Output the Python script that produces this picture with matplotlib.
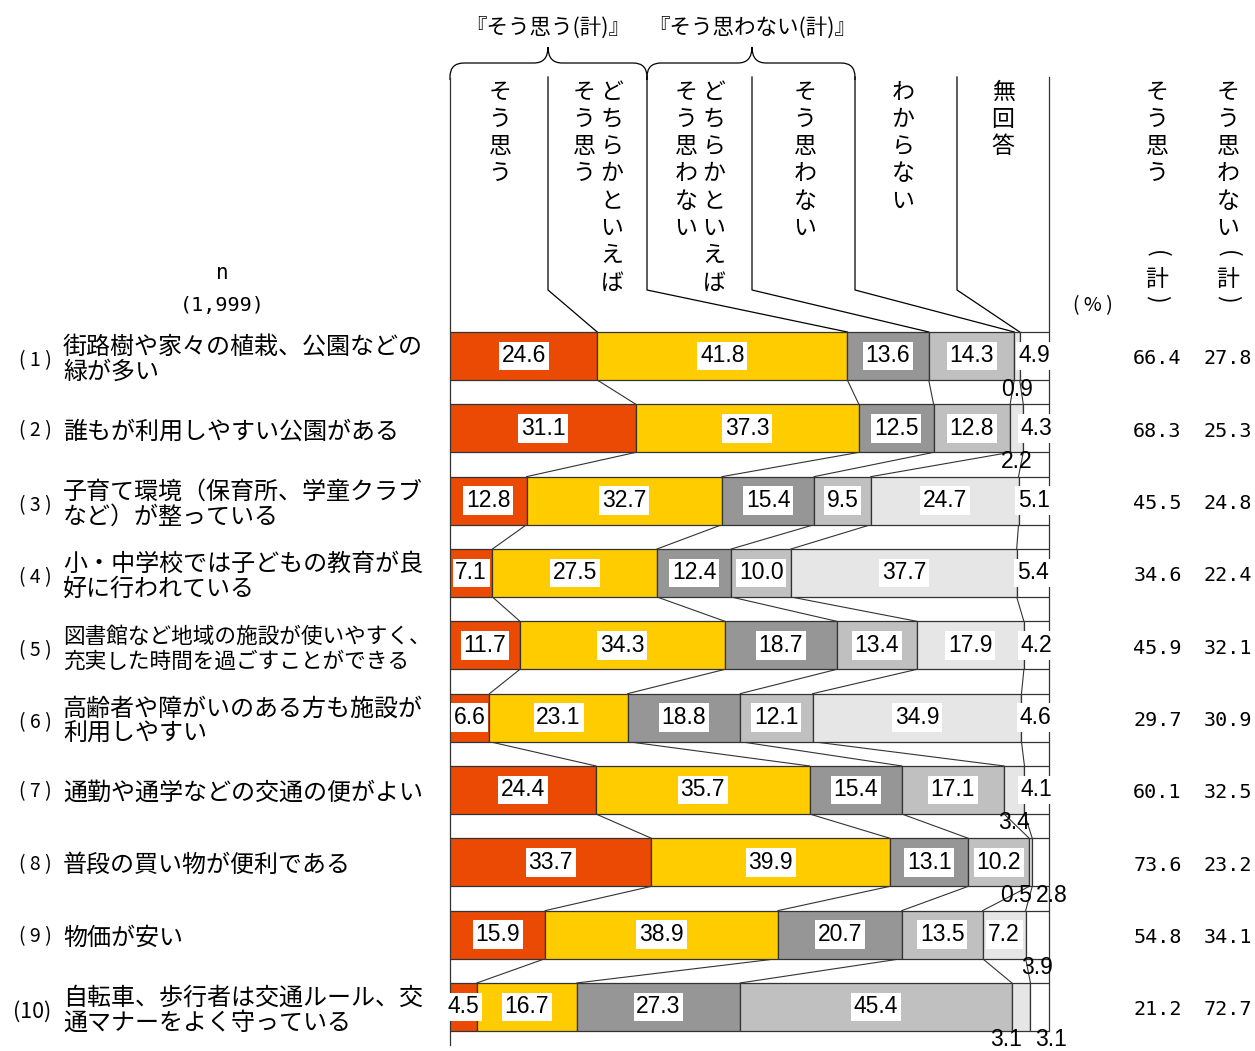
import matplotlib
matplotlib.use('Agg')  # noqa
import matplotlib.pyplot as plt
from matplotlib.path import Path
from matplotlib.patches import PathPatch

plt.rcParams['font.family'] = ['Noto Sans CJK JP', 'DejaVu Sans']

# ---- data ----
items = [
    '街路樹や家々の植栽、公園などの\n緑が多い',
    '誰もが利用しやすい公園がある',
    '子育て環境（保育所、学童クラブ\nなど）が整っている',
    '小・中学校では子どもの教育が良\n好に行われている',
    '図書館など地域の施設が使いやすく、\n充実した時間を過ごすことができる',
    '高齢者や障がいのある方も施設が\n利用しやすい',
    '通勤や通学などの交通の便がよい',
    '普段の買い物が便利である',
    '物価が安い',
    '自転車、歩行者は交通ルール、交\n通マナーをよく守っている',
]
n_total = '(1,999)'
sou = [24.6, 31.1, 12.8, 7.1, 11.7, 6.6, 24.4, 33.7, 15.9, 4.5]
dochira_sou = [41.8, 37.3, 32.7, 27.5, 34.3, 23.1, 35.7, 39.9, 38.9, 16.7]
dochira_nai = [13.6, 12.5, 15.4, 12.4, 18.7, 18.8, 15.4, 13.1, 20.7, 27.3]
sou_nai = [14.3, 12.8, 9.5, 10.0, 13.4, 12.1, 17.1, 10.2, 13.5, 45.4]
wakaranai = [0.9, 2.2, 24.7, 37.7, 17.9, 34.9, 3.4, 0.5, 7.2, 3.1]
mukaitou = [4.9, 4.3, 5.1, 5.4, 4.2, 4.6, 4.1, 2.8, 3.9, 3.1]
total_sou = [66.4, 68.3, 45.5, 34.6, 45.9, 29.7, 60.1, 73.6, 54.8, 21.2]
total_nai = [27.8, 25.3, 24.8, 22.4, 32.1, 30.9, 32.5, 23.2, 34.1, 72.7]

series = [sou, dochira_sou, dochira_nai, sou_nai, wakaranai, mukaitou]
colors = ['#EB4A05', '#FFCC00', '#969696', '#C0C0C0', '#E6E6E6', '#FFFFFF']

W, H = 1255, 1051
X0, X1 = 450, 1049          # bar area in pixels
Y0, STEP = 356, 72.33       # first row centre, row step
BAR_H = 0.664


def px_x(px):
    return (px - X0) / (X1 - X0) * 100


def px_y(py):
    return (py - Y0) / STEP


fig = plt.figure(figsize=(W / 100, H / 100), dpi=100)

# overlay in pixel coordinates for header / labels
ov = fig.add_axes([0, 0, 1, 1])
ov.set_xlim(0, W)
ov.set_ylim(H, 0)
ov.axis('off')

top_px = Y0 - 0.5 * STEP
bot_px = Y0 + 9.5 * STEP
ax = fig.add_axes([X0 / W, 1 - bot_px / H, (X1 - X0) / W, (bot_px - top_px) / H])
ax.set_xlim(0, 100)
ax.set_ylim(9.5, -0.5)
ax.axis('off')

n = len(items)
rows = list(range(n))
norm = []
for i in rows:
    vals = [s[i] for s in series]
    tot = sum(vals)
    norm.append([v / tot * 100 for v in vals])

lefts = [0] * n
cums = [[0] for _ in rows]
for k in range(len(series)):
    widths = [norm[i][k] for i in rows]
    ax.barh(rows, widths, left=lefts, height=BAR_H, color=colors[k],
            edgecolor='#333333', linewidth=0.9, zorder=2)
    lefts = [lefts[i] + widths[i] for i in rows]
    for i in rows:
        cums[i].append(lefts[i])

# connecting lines between rows
for i in range(n - 1):
    for k in range(1, len(series)):
        ax.plot([cums[i][k], cums[i + 1][k]],
                [i + BAR_H / 2, i + 1 - BAR_H / 2],
                color='#333333', lw=0.8, zorder=1)

# frame lines
ax.plot([0, 0], [px_y(78), px_y(1045)], color='#333333', lw=0.9,
        clip_on=False, zorder=1)
ax.plot([100, 100], [px_y(77), 9 + BAR_H / 2], color='#333333', lw=0.9,
        clip_on=False, zorder=1)

# header leader lines
dividers = [548, 647, 752, 855, 957]
for k, xd in enumerate(dividers, start=1):
    ax.plot([px_x(xd), px_x(xd), cums[0][k]],
            [px_y(77), px_y(290), -BAR_H / 2],
            color='black', lw=0.9, clip_on=False, zorder=1)


def brace(x0, xm, x1, yb=63, yt=47, ye=80, r=14):
    verts = [(x0, ye), (x0, yb + r), (x0, yb), (x0 + r, yb),
             (xm - r, yb), (xm, yb), (xm, yt),
             (xm, yb), (xm + r, yb),
             (x1 - r, yb), (x1, yb), (x1, yb + r), (x1, ye)]
    codes = [Path.MOVETO, Path.LINETO, Path.CURVE3, Path.CURVE3,
             Path.LINETO, Path.CURVE3, Path.CURVE3,
             Path.CURVE3, Path.CURVE3,
             Path.LINETO, Path.CURVE3, Path.CURVE3, Path.LINETO]
    ov.add_patch(PathPatch(Path(verts, codes), fc='none', ec='black', lw=0.9))


brace(450, 548, 647)
brace(647, 752, 855)
ov.text(548, 28, '『そう思う(計)』', ha='center', va='center', fontsize=15.5)
ov.text(752, 28, '『そう思わない(計)』', ha='center', va='center', fontsize=15.5)


def vtext(x, y0, s, step=27.3, size=16.5):
    for j, ch in enumerate(s):
        ov.text(x, y0 + j * step, ch, ha='center', va='center', fontsize=size)


header_cols = [
    (500, 'そう思う'),
    (612, 'どちらかといえば'),
    (584, 'そう思う'),
    (714, 'どちらかといえば'),
    (686, 'そう思わない'),
    (805, 'そう思わない'),
    (903, 'わからない'),
    (1003, '無回答'),
    (1157, 'そう思う'),
    (1228, 'そう思わない'),
]
for xc, s in header_cols:
    vtext(xc, 92, s)
for xc in (1157, 1228):
    ov.text(xc, 254, '(', rotation=-90, ha='center', va='center', fontsize=16.5)
    ov.text(xc, 279, '計', ha='center', va='center', fontsize=16.5)
    ov.text(xc, 299, ')', rotation=-90, ha='center', va='center', fontsize=16.5)

ov.text(222, 273, 'n', ha='center', va='center', fontsize=15,
        family='DejaVu Sans Mono')
ov.text(222, 306, n_total, ha='center', va='center', fontsize=14.5,
        family='DejaVu Sans Mono')
ov.text(1093, 306, '( % )', ha='center', va='center', fontsize=14)

# left item labels
for i, label in enumerate(items):
    yc = Y0 + i * STEP
    lines = label.split('\n')
    longest = max(len(t) for t in lines)
    size = 17.3 if longest <= 15 else 15.6
    if i == 9:
        num, num_size = '(10)', 15.5
    else:
        num, num_size = '( %d )' % (i + 1), 14
    if len(lines) == 1:
        ov.text(63, yc + 3, lines[0], ha='left', va='center', fontsize=size)
        ov.text(35, yc + 2, num, ha='center', va='center', fontsize=num_size)
    else:
        ov.text(63, yc - 9, lines[0], ha='left', va='center', fontsize=size)
        ov.text(63, yc + 16, lines[1], ha='left', va='center', fontsize=size)
        ov.text(32 if i == 9 else 35, yc + 5, num, ha='center', va='center',
                fontsize=num_size)

# right totals
for i in rows:
    yc = Y0 + i * STEP + 3
    ov.text(1157.5, yc, '%.1f' % total_sou[i], ha='center', va='center',
            fontsize=14.5, family='DejaVu Sans Mono')
    ov.text(1228, yc, '%.1f' % total_nai[i], ha='center', va='center',
            fontsize=14.5, family='DejaVu Sans Mono')

# value labels
num_font = dict(family='Liberation Sans', fontsize=16.5)
for i in rows:
    small = [k for k in range(len(series)) if series[k][i] < 4.0]
    for k in range(len(series)):
        v = series[k][i]
        xc = (cums[i][k] + cums[i][k + 1]) / 2
        if k in small:
            if len(small) == 2:
                xc += px_x(X0 - 15) if k == small[0] else px_x(X0 + 11)
            ax.text(xc, i + BAR_H / 2 + 9 / STEP, '%.1f' % v, ha='center',
                    va='center', zorder=5, clip_on=False, **num_font)
        else:
            ax.text(xc, i, '%.1f' % v, ha='center', va='center', zorder=5,
                    bbox=dict(boxstyle='square,pad=0.12', fc='white',
                              ec='none'), **num_font)

fig.savefig('out.png', dpi=100)
